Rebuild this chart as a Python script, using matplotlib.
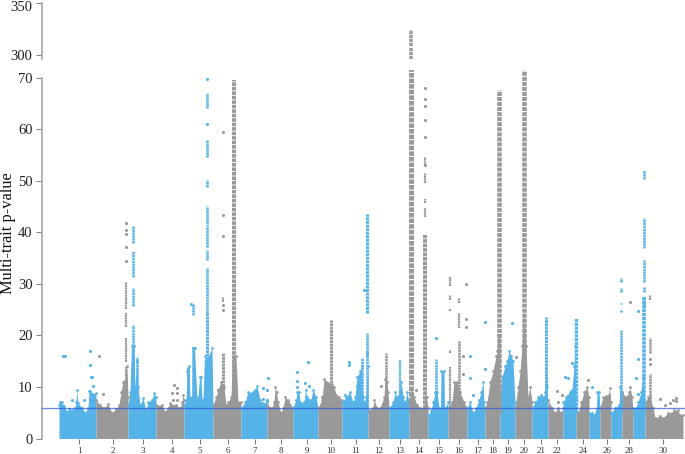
# manhattan plot with broken y axis
import numpy as np
import matplotlib
matplotlib.use('Agg')
import matplotlib.pyplot as plt
from matplotlib.transforms import ScaledTranslation

plt.rcParams['font.family'] = ['Liberation Serif', 'DejaVu Serif']

BLUE = '#55b3e8'
GRAY = '#999999'

# chromosome borders along the genome axis
chrom_edges = [59, 96, 128, 156, 184, 213, 241, 267, 293, 318, 342, 368, 389, 409, 428,
               448, 467, 485, 500, 515, 532, 548, 563, 576, 589, 600, 611, 622, 633, 645, 683]

tick_pos = [79, 113, 143, 172, 200, 228, 255, 281, 307, 331, 356, 379, 400, 419, 439,
            459, 478, 493, 508, 524, 541, 557, 583, 607, 629, 663]
tick_lab = ['1', '2', '3', '4', '5', '6', '7', '8', '9', '10', '11', '12', '13', '14', '15',
            '16', '17', '18', '19', '20', '21', '22', '24', '26', '28', '30']

# upper edge of the dense part of each chromosome
prof_x = [
    [59, 60, 61.5, 64, 67, 69, 72, 75, 76, 76.8, 78, 82, 85, 88, 89, 90, 93, 96],
    [96, 100, 104, 108, 112, 116, 119, 121, 123, 125, 127, 128],
    [128, 130, 131.5, 134, 135, 137, 138, 140, 143, 146, 148, 152, 154, 156],
    [156, 162, 165, 170, 176, 180, 182, 183, 184],
    [184, 186, 187, 189, 190, 192, 192.5, 194.5, 197, 198, 199.5, 201, 202, 203, 204.5, 206, 212, 213],
    [213, 216, 218, 221, 224, 226, 228, 231, 232.5, 236, 238, 241],
    [241, 245, 248, 253, 255, 257, 260, 263, 267],
    [267, 272, 274, 275, 276.5, 278, 281, 283, 285, 288, 293],
    [293, 296, 297, 299, 300, 304, 305.5, 307, 311, 313, 316, 318],
    [318, 322, 324, 332, 334, 336, 339, 342],
    [342, 346, 350, 353, 355, 357, 360, 361.5, 362.5, 364, 366, 368],
    [368, 373, 374, 377, 380, 384, 385, 387, 388, 389],
    [389, 393, 395, 397, 400, 401, 403, 405, 407, 409],
    [409, 411, 414, 417, 420, 424, 425, 426.5, 428],
    [428, 431, 433, 435, 437, 439, 440.5, 441, 444, 444.5, 448],
    [448, 452, 454, 457, 460, 464, 467],
    [467, 470, 473, 476, 479, 481, 483, 484, 485],
    [485, 487, 490, 493, 496, 497, 498, 500],
    [500, 502, 505, 507, 509, 511, 513, 515],
    [515, 518, 520, 522, 524, 526, 528, 530, 532],
    [532, 535, 538, 541, 544, 545, 546, 547, 548],
    [548, 552, 555, 558, 561, 563],
    [563, 566, 568, 570, 572, 574, 575, 576],
    [576, 578, 581, 584, 587, 589],
    [589, 592, 594, 596.5, 597, 599, 600],
    [600, 603, 606, 608.5, 609.5, 611],
    [611, 615, 619, 620, 622],
    [622, 626, 629, 630, 632, 633],
    [633, 636, 638, 641, 643, 645],
    [645, 648, 650, 653, 655, 660, 663, 668, 672, 674, 678, 680, 683],
]
prof_y = [
    [6.5, 7.1, 7.1, 6.3, 5.2, 5.8, 5.5, 6, 7, 9.5, 6.8, 6, 5, 6, 9.2, 9.3, 8.6, 8.8],
    [7.5, 6.5, 6, 6.6, 5, 5.8, 6.5, 9, 11, 11.2, 14, 8],
    [6.5, 9, 18, 18, 10, 15, 10, 6.5, 7.8, 5.5, 7, 7.5, 8.8, 8],
    [6.5, 6.5, 5.2, 6.8, 6.5, 6, 7, 8.5, 7.5],
    [6.5, 7.5, 13, 14, 7.8, 8, 17.5, 17.5, 7.5, 8, 12, 12, 7.5, 7.5, 16, 15, 17.5, 6],
    [6.5, 8, 9.5, 11, 10, 6.5, 7, 8, 16, 16, 7, 7],
    [6, 7, 9, 9, 9.5, 10.2, 7.5, 6.8, 7],
    [6.5, 6, 7, 10, 9, 7, 5, 6, 8, 7.5, 6],
    [6, 7.5, 9, 9, 7, 7, 9.5, 8, 7.5, 9.5, 8, 6],
    [6, 7.5, 11.5, 10.5, 10, 8.5, 8, 7.5],
    [7, 8, 9, 7, 8, 12, 13, 14, 8, 7, 8, 14],
    [5.5, 6, 7.5, 6, 6, 8, 11.5, 11, 9, 6],
    [6, 7, 9, 8, 9.5, 11, 8, 7, 9, 7],
    [7, 9, 8, 6.5, 6, 6, 9, 8, 6],
    [4.5, 5.5, 7, 9, 9, 6, 6, 13, 13, 6, 7],
    [6, 7, 11, 11, 9, 7, 6],
    [6, 7, 5, 6, 7.5, 9, 11, 7, 5.5],
    [6, 7, 11, 13, 16, 17, 20, 20],
    [8, 12, 14, 15, 17, 16, 15, 7],
    [6, 10, 13, 18, 25, 18, 8, 10, 7],
    [6, 7, 8, 8.5, 8, 9, 15, 10, 6],
    [7.5, 6, 5, 6, 5, 6],
    [7, 8, 8.5, 9, 9.5, 14, 18, 8],
    [6, 5, 7, 9, 10, 8],
    [5, 5, 4.5, 6, 9, 9, 6],
    [6, 8, 8.3, 8.5, 9.8, 7],
    [5, 6, 6.5, 10, 9],
    [9, 8, 9, 10, 8, 5],
    [6, 6, 7, 9, 12, 6],
    [7, 8, 8, 6, 4, 4.4, 4, 5, 5, 5.5, 5.5, 4.5, 4.5],
]

# columns of strong signal: position, start and end of each run, line width in px
peak_x = [126, 126, 126, 126,
          132.7, 132.7, 132.7, 132.7, 136.7,
          193, 193, 188,
          207.3, 207.3, 207.3, 207.3, 207.3, 207.3, 207.3, 207.3,
          222.7, 222.7, 234.3,
          330.5, 367.3, 367.3, 367.3, 361.7, 385.7, 400,
          410.5, 425.3, 425.3, 425.3, 425.3, 425.3,
          436, 449.7, 449.7, 449.7, 449.7, 449.7, 459, 459, 459, 459,
          499.3, 524, 546.3, 575.7,
          621, 621, 621, 621, 621,
          644, 644, 644, 644, 644, 644,
          650, 650, 650]
peak_lo = [21.7, 25.2, 14.9, 5,
           38, 31.3, 25.6, 5, 5,
           24, 5, 5,
           64.1, 54.6, 48.8, 41.6, 37.2, 34.6, 24.4, 5,
           26.5, 5, 5,
           5, 24.4, 5, 16, 5, 5, 5,
           5, 5, 43, 45.6, 49.5, 53,
           5, 5, 16.5, 24.8, 26.8, 29.5, 5, 21.4, 26.2, 28.8,
           5, 5, 5, 5,
           5, 24.5, 26, 28.5, 30.4,
           5, 25.4, 28.5, 30.4, 37, 50.3,
           5, 16.6, 26.8]
peak_hi = [24.3, 30.4, 19.5, 13.9,
           41.2, 36.3, 29.2, 22, 15.9,
           26, 18, 13.9,
           67, 57.9, 50.1, 45, 41.4, 36.5, 33, 24.4,
           27.5, 16.5, 69.5,
           23, 43.6, 20.4, 16.9, 15.7, 16.5, 15.2,
           72, 39.5, 44.6, 46.5, 51.5, 54.5,
           15.5, 13.9, 17.2, 25.2, 27.8, 31.4, 19, 24.3, 27.2, 28.8,
           67.6, 71.5, 23.6, 23.3,
           21, 25, 26.2, 29.1, 31.1,
           27.4, 27.4, 29.4, 34.6, 42.7, 52,
           12.6, 19.4, 27.8]
peak_w = [2.2, 2.2, 2.2, 2.2,
          2.6, 2.6, 2.6, 2.6, 2.6,
          2.6, 2.6, 3,
          2.6, 2.6, 2.6, 2.6, 2.6, 2.6, 2.6, 3,
          2.2, 3, 4,
          3, 3.2, 2.6, 2.6, 2.6, 2.6, 2.2,
          5, 4, 2.2, 2.2, 2.2, 2.2,
          2.6, 2.2, 2.2, 2.2, 2.2, 2.2, 2.6, 2.2, 2.2, 2.2,
          4.5, 4.5, 3, 3.4,
          2.6, 2.6, 2.6, 2.6, 2.6,
          3.6, 2.6, 2.6, 2.6, 2.6, 2.6,
          2.6, 2.6, 2.2]

# the highest run of chromosome 14 above the axis break
top_x = [410.5, 410.5]
top_lo = [308.6, 296]
top_hi = [324, 306.7]

# single points away from the columns
blue_x = [63, 64.5, 90, 90, 91, 92, 93, 72, 84, 263.3, 266.7, 263.3, 266.7, 267.7,
          297.3, 297.3, 297.3, 305, 308.3, 309.3, 345.3, 349.3, 349.3, 356.7, 364.3,
          436, 470, 470, 472.5, 485, 485, 511.7, 565, 568.3, 571.7,
          591.7, 636.3, 637.7, 637.7, 637.7, 207.3, 207.3, 191]
blue_y = [16, 16, 17, 14.2, 12, 12, 10.2, 7.5, 7.5, 9.8, 9.5, 7.7, 7.5, 11.7,
          12.9, 11.2, 10, 10.8, 14.8, 10.2, 8.5, 14.8, 14.3, 10.2, 28.8,
          19.4, 16, 11.8, 8.4, 22.5, 13.5, 22.3, 11.9, 11.7, 14.7,
          9.9, 11.8, 24.8, 15.4, 8.7, 69.8, 61, 26]
gray_x = [126, 126, 126, 126, 126, 98.5, 103, 172.3, 174, 176.7, 172.7, 176.7, 177.3,
          222.7, 222.7, 222.7, 222.7, 222.7, 218, 321.7, 380.7, 415.7,
          425, 425, 425, 425, 425, 425.3,
          463.3, 463.3, 465.7, 465.7, 465.7, 516, 556.7, 558.3, 561.7, 588.3, 630.3,
          650, 650, 660, 665, 669.7, 673.3, 676, 676]
gray_y = [41.7, 40.4, 39.6, 37.2, 34.4, 16, 8.7, 8.9, 10.3, 9.8, 7.5, 7.5, 8.9,
          59.5, 43.3, 39.3, 25.9, 24.9, 9.5, 8, 10.2, 9.4,
          68, 65.8, 64.5, 61.7, 58.5, 53,
          16, 12.6, 29.9, 23.1, 21.6, 15.9, 9.2, 7.1, 8.4, 11.3, 26.5,
          15.5, 14.5, 7.7, 6.5, 6.8, 7.5, 7.8, 7.2]

threshold = 6


def chrom_colour(x):
    i = np.searchsorted(chrom_edges, x, side='right') - 1
    return BLUE if i % 2 == 0 else GRAY


W, H = 685, 454
fig = plt.figure(figsize=(W / 100, H / 100), dpi=100)

# axes placed so the scales sit where they do in the reference
ax = fig.add_axes([42 / W, 1 - 438.5 / H, (W - 42) / W, (438.5 - 70) / H])
ax_top = fig.add_axes([42 / W, 1 - 59 / H, (W - 42) / W, 59 / H])
px = 0.72  # one pixel in points

for xs, ys in zip(prof_x, prof_y):
    c = chrom_colour(xs[0] + 1)
    ax.fill_between(xs, 0, ys, color=c, lw=0)
    ax.scatter(xs, ys, s=4, color=c, lw=0)

# dashes make the tall columns read as stacked dots
for x, lo, hi, w in zip(peak_x, peak_lo, peak_hi, peak_w):
    ax.plot([x, x], [lo, hi], color=chrom_colour(x), lw=w * px,
            linestyle=(0, (0.9, 0.22)), dash_capstyle='butt')

for x, lo, hi in zip(top_x, top_lo, top_hi):
    ax_top.plot([x, x], [lo, hi], color=GRAY, lw=3.5 * px, linestyle=(0, (0.9, 0.22)),
                dash_capstyle='butt')

ax.scatter(blue_x, blue_y, s=5, color=BLUE, lw=0, zorder=3)
ax.scatter(gray_x, gray_y, s=5, color=GRAY, lw=0, zorder=3)
ax.plot([42, 685], [threshold, threshold], color='#2f55e0', lw=1.3 * px, alpha=0.7, zorder=4)

ax.set_xlim(42, 685)
ax.set_ylim(0, (438.5 - 70) / 5.157)
ax_top.set_xlim(42, 685)
ax_top.set_ylim(296.15, 352.9)

for a in (ax, ax_top):
    a.patch.set_alpha(0)
    for s in ('top', 'right', 'bottom'):
        a.spines[s].set_visible(False)
    a.spines['left'].set_color('#aaaaaa')
    a.spines['left'].set_linewidth(1.7 * px)
    a.tick_params(axis='y', labelsize=10.5, length=6 * px, width=0.9 * px, color='#777777',
                  labelcolor='#222222', pad=2.5)
ax.spines['left'].set_bounds(0, 70)
ax_top.spines['left'].set_bounds(296.15, 350)

ax.set_yticks([0, 10, 20, 30, 40, 50, 60, 70])
ax_top.set_yticks([300, 350])
ax_top.set_xticks([])

# 350 sits right at the top edge, nudge it into the frame
lab350 = ax_top.get_yticklabels()[1]
lab350.set_transform(lab350.get_transform() + ScaledTranslation(0, -2.5 / 100, fig.dpi_scale_trans))

ax.set_xticks(tick_pos)
ax.set_xticklabels(tick_lab)
ax.tick_params(axis='x', labelsize=6.5, length=5 * px, width=0.8 * px, color='#555555',
               labelcolor='#333333', pad=2.6)

fig.text(8 / W, 1 - 233 / H, 'Multi-trait p-value', rotation=90, fontsize=11.8,
         ha='center', va='center', color='#111111')

fig.savefig('out.png', dpi=100)
